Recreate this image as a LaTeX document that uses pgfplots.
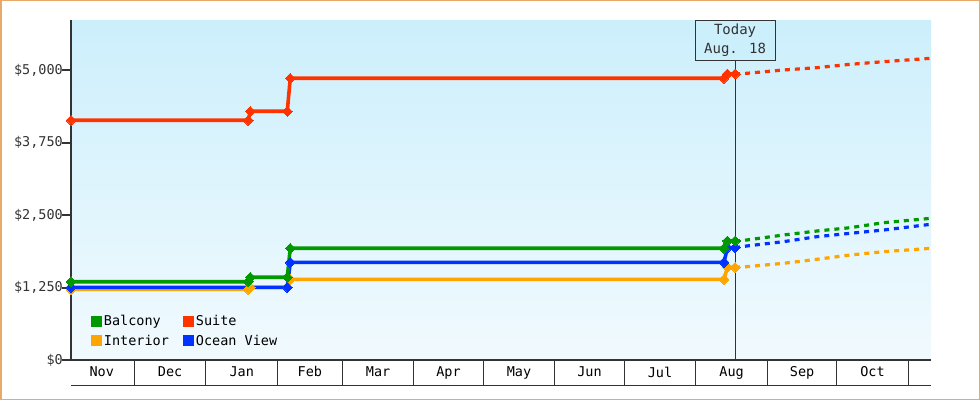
\documentclass[border=0pt]{standalone}
\usepackage{fontspec}
\setmainfont{DejaVu Sans Mono}
\usepackage{pgfplots}
\pgfplotsset{compat=1.18}
\definecolor{suite}{RGB}{255,51,0}
\definecolor{balcony}{RGB}{0,153,0}
\definecolor{oceanview}{RGB}{0,51,255}
\definecolor{interior}{RGB}{255,165,0}
\definecolor{axisgray}{RGB}{51,51,51}
\definecolor{bgtop}{RGB}{204,239,252}
\definecolor{bgbottom}{RGB}{241,250,254}
\definecolor{frame}{RGB}{230,170,105}

\begin{document}
\fontsize{13.5}{15}\selectfont
\begin{tikzpicture}
\useasboundingbox (0,0) rectangle (980pt,400pt);
\fill[white] (0,0) rectangle (980pt,400pt);
\draw[frame, line width=1.5pt] (0.75pt,0.75pt) rectangle (979.25pt,399.25pt);
\begin{axis}[
  at={(71pt,40pt)}, anchor=south west,
  scale only axis, width=860pt, height=340pt,
  xmin=-27.4, xmax=344.8, ymin=0, ymax=5862,
  clip=false,
  axis x line*=bottom, axis y line*=left,
  x axis line style={draw=axisgray, line width=1.5pt},
  y axis line style={draw=axisgray, line width=2pt},
  axis background/.style={top color=bgtop, bottom color=bgbottom},
  tick align=outside,
  major tick length=25pt,
  % month separators
  xtick={0,31,62,90,121,151,182,212,243,274,304,335},
  xticklabels={},
  x tick style={draw=axisgray, line width=1pt},
  % month names
  extra x ticks={-14.1,15.5,46.5,76,105.5,136,166.5,197,227.5,258.5,289,319.5},
  extra x tick labels={Nov,Dec,Jan,Feb,Mar,Apr,May,Jun,Jul,Aug,Sep,Oct},
  extra x tick style={major tick length=0pt,
    tick label style={text=black, yshift=-2pt}},
  % price ticks
  ytick=\empty,
  extra y ticks={0,1250,2500,3750,5000},
  extra y tick labels={{\$0},{\$1,250},{\$2,500},{\$3,750},{\$5,000}},
  extra y tick style={major tick length=9pt,
    tick style={draw=axisgray, line width=2pt},
    tick label style={text=axisgray, inner sep=1pt, xshift=2pt}},
  legend columns=2,
  legend cell align=left,
  legend style={at={(rel axis cs:0.02,0.142)}, anchor=north west,
    draw=none, fill=none, font=\fontsize{13.5}{15}\selectfont,
    row sep=4pt,
    nodes={inner sep=1.5pt},
    /tikz/every even column/.append style={column sep=13pt}},
  legend image code/.code={\fill[#1, draw=none] (0pt,-5.5pt) rectangle (11pt,5.5pt);},
  every axis plot/.append style={line width=3.6pt},
  solid step/.style={mark=square*, mark size=3.5pt,
    mark options={rotate=45, solid, line width=0pt}},
  projection/.style={line width=3.2pt, dash pattern=on 5pt off 5pt},
]
\addlegendimage{fill=balcony}\addlegendentry{Balcony}
\addlegendimage{fill=suite}\addlegendentry{Suite}
\addlegendimage{fill=interior}\addlegendentry{Interior}
\addlegendimage{fill=oceanview}\addlegendentry{Ocean View}

% today marker
\draw[axisgray, line width=1pt] (axis cs:260,0) -- (axis cs:260,5172);

% Interior
\addplot[forget plot, interior, solid step] coordinates {
  (-27.4,1219) (49.3,1219) (50.2,1253) (66.2,1253) (67.5,1391)
  (255.2,1391) (256.7,1598) (260,1598)
};
\addplot[forget plot, interior, projection] coordinates {
  (260,1598) (265.1,1609) (280.9,1667) (295.4,1736) (309.8,1810)
  (324.2,1867) (344.8,1926)
};
% Ocean View
\addplot[forget plot, oceanview, solid step] coordinates {
  (-27.4,1253) (66.2,1253) (67.5,1684) (255.2,1684) (256.7,1936) (260,1936)
};
\addplot[forget plot, oceanview, projection] coordinates {
  (260,1936) (265.1,1966) (280.9,2040) (295.4,2126) (309.8,2184)
  (324.2,2241) (344.8,2340)
};
% Balcony
\addplot[forget plot, balcony, solid step] coordinates {
  (-27.4,1350) (49.3,1350) (50.2,1426) (66.2,1426) (67.5,1926)
  (255.2,1926) (256.7,2052) (260,2052)
};
\addplot[forget plot, balcony, projection] coordinates {
  (260,2052) (265.1,2069) (280.9,2155) (295.4,2224) (309.8,2281)
  (324.2,2367) (344.8,2443)
};
% Suite
\addplot[forget plot, suite, solid step] coordinates {
  (-27.4,4133) (49.3,4133) (50.2,4288) (66.2,4288) (67.5,4857)
  (255.2,4857) (256.7,4931) (260,4931)
};
\addplot[forget plot, suite, projection] coordinates {
  (260,4931) (265.1,4943) (280.9,5000) (295.4,5040) (309.8,5098)
  (324.2,5143) (344.8,5202)
};

\node[draw=axisgray, line width=1pt, fill=bgtop, minimum width=80pt,
  minimum height=40pt, align=center, text=axisgray, inner sep=2pt,
  font=\fontsize{14}{19}\selectfont]
  at (axis cs:260,5517) {Today\\Aug. 18};

\draw[axisgray, line width=1pt] ([yshift=-25pt]rel axis cs:0,0) -- ([yshift=-25pt]rel axis cs:1,0);
\end{axis}
\end{tikzpicture}
\end{document}
